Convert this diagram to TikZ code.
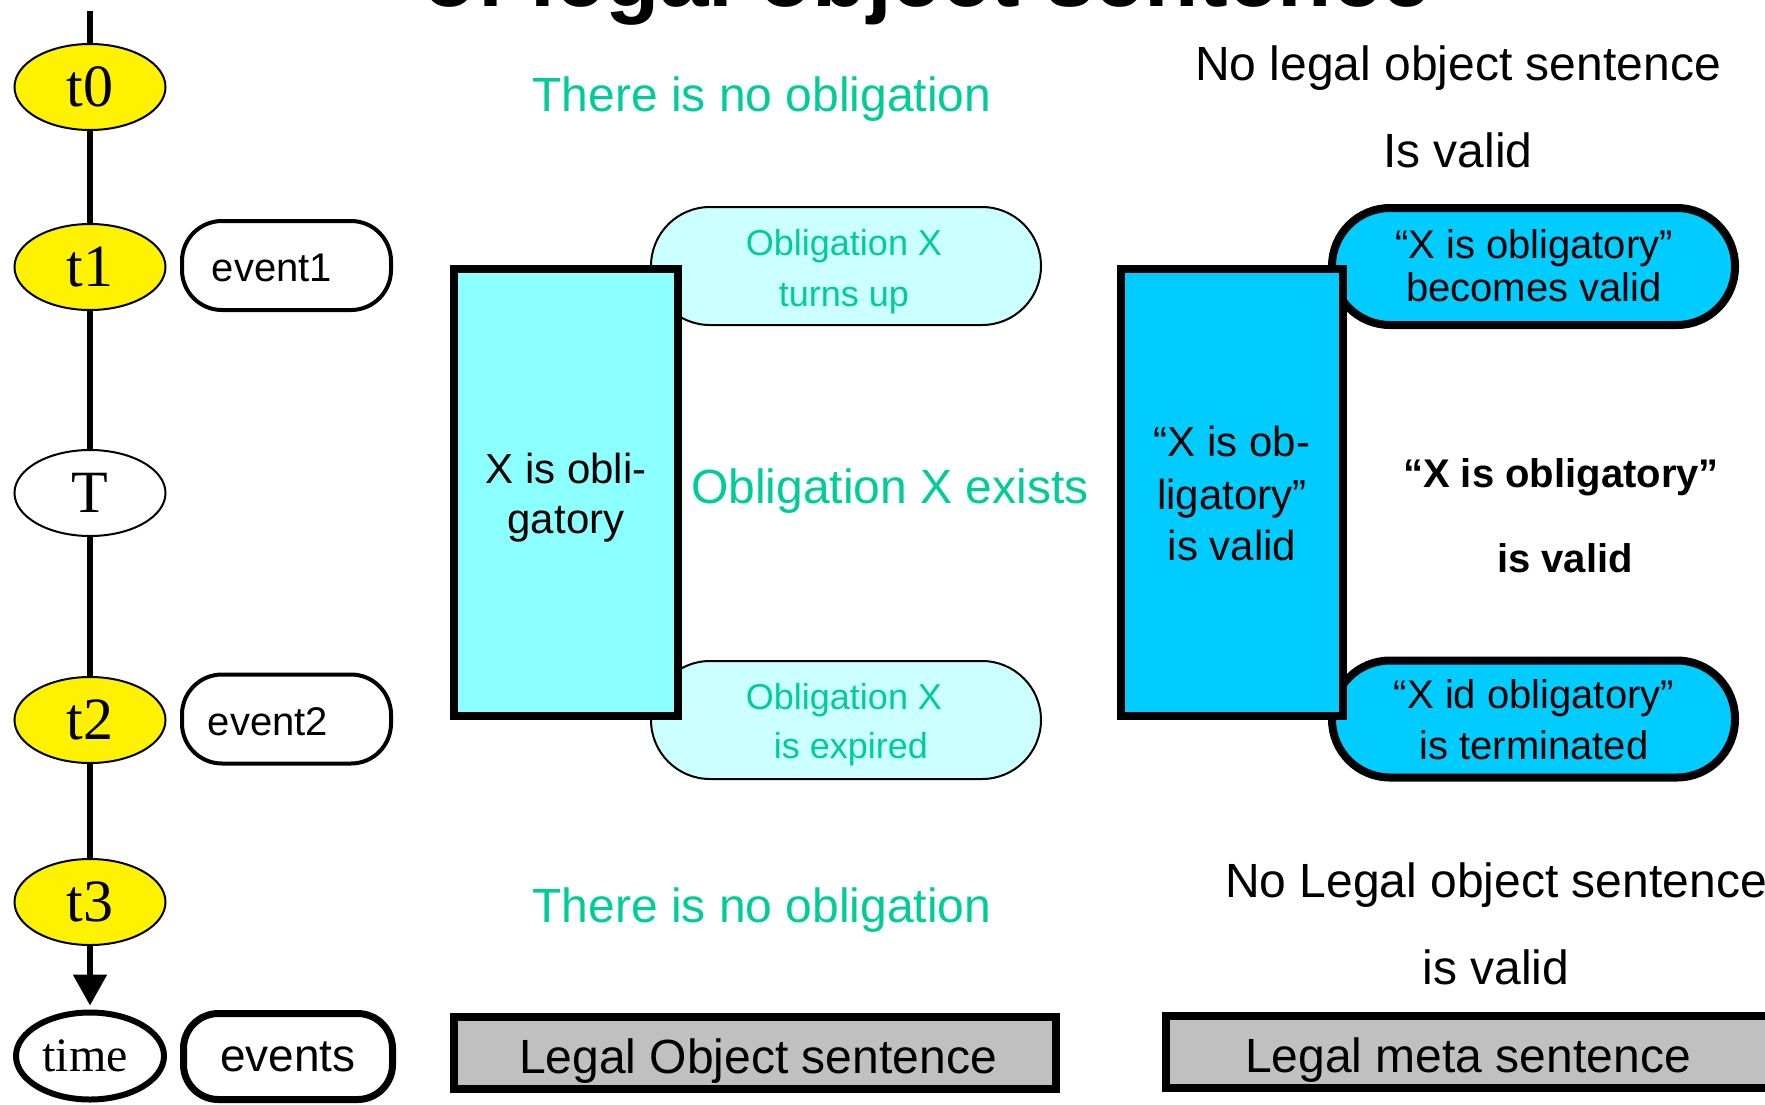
\documentclass[tikz,border=0pt]{standalone}
\usepackage{fontspec}
\setmainfont{Liberation Sans}
\newfontfamily\timesf{Liberation Serif}
\usetikzlibrary{shapes.geometric,arrows.meta}
\definecolor{ygreen}{RGB}{0,204,153}
\definecolor{pcyan}{RGB}{204,255,255}
\definecolor{rcyan}{RGB}{140,255,255}
\definecolor{dcyan}{RGB}{0,204,255}
\definecolor{gbox}{RGB}{192,192,192}
\newcommand\fsz[1]{\fontsize{#1}{#1}\selectfont}
\begin{document}
\begin{tikzpicture}[x=1pt,y=-1pt,
  tnode/.style={ellipse, draw, line width=2pt, fill=yellow, minimum width=151pt, minimum height=86pt, inner sep=0pt, font=\timesf\fsz{60}},
  evbox/.style={draw, line width=4pt, rounded corners=40pt, minimum width=209pt, minimum height=89pt, inner sep=0pt},
  lpill/.style={draw, line width=2pt, fill=pcyan, rounded corners=59pt, minimum width=390pt, minimum height=118pt},
  rpill/.style={draw, line width=8pt, fill=dcyan, rounded corners=58pt, minimum width=403pt, minimum height=117pt},
  lrect/.style={draw, line width=8pt, fill=rcyan, minimum width=224pt, minimum height=447pt},
  rrect/.style={draw, line width=8pt, fill=dcyan, minimum width=222pt, minimum height=447pt},
  graybox/.style={draw, line width=8pt, fill=gbox, minimum height=72pt, inner sep=0pt},
  txt/.style={anchor=base, inner sep=0pt},
  big/.style={txt, font=\fsz{48}},
  green/.style={text=ygreen},
]
\useasboundingbox (0,0) rectangle (1765,1104);

% title (cut by the top edge)
\node[anchor=base west, inner sep=0pt, font=\bfseries\fsz{89}] (title) at (422,6) {of legal object sentence};

% time line
\coordinate (top) at (90,11);
\node[tnode] (t0) at (90,87) {t0};
\node[tnode] (t1) at (90,267) {t1};
\node[tnode, fill=white] (T) at (90,493) {T};
\node[tnode] (t2) at (90,720) {t2};
\node[tnode] (t3) at (90,902) {t3};
\node[tnode, fill=white, line width=6pt, minimum width=148pt, minimum height=87pt, font=\timesf\fsz{48}] (time) at (90,1056) {\hspace*{-10pt}time};
\draw[line width=5.5pt] (top) -- (t0);
\draw[line width=5.5pt] (t0) -- (t1);
\draw[line width=5.5pt] (t1) -- (T);
\draw[line width=5.5pt] (T) -- (t2);
\draw[line width=5.5pt] (t2) -- (t3);
\draw[line width=5.5pt, -{Triangle[length=31pt,width=33pt]}, shorten >=4pt] (t3) -- (time);

% events
\node[evbox] (ev1) at (286.5,265.5) {};
\node[txt, font=\fsz{40}] (ev1t) at (272,281) {event1};
\node[evbox] (ev2) at (286.5,719) {};
\node[txt, font=\fsz{40}] (ev2t) at (268,735) {event2};
\node[evbox, line width=7pt, rounded corners=35pt, minimum height=86pt, font=\fsz{46}] (evs) at (288,1056.5) {events};

% object level (left)
\node[lpill] (p1) at (846,266) {};
\node[lpill] (p2) at (846,720) {};
\node[lrect] (r1) at (566,492.5) {};
\node[txt, green, font=\fsz{36}] (p1a) at (844,255) {Obligation X};
\node[txt, green, font=\fsz{36}] (p1b) at (844,306) {turns up};
\node[txt, green, font=\fsz{36}] (p2a) at (844,709) {Obligation X};
\node[txt, green, font=\fsz{36}] (p2b) at (851,758) {is expired};
\node[txt, font=\fsz{42}] (r1a) at (566,483) {X is obli-};
\node[txt, font=\fsz{42}] (r1b) at (566,533) {gatory};

\node[big, green] (no1) at (762,111) {There is no obligation};
\node[big, green] (ex) at (890,503) {Obligation X exists};
\node[big, green] (no2) at (762,922) {There is no obligation};

% meta level (right)
\node[rpill] (q1) at (1533.5,266.5) {};
\node[rpill] (q2) at (1533.5,719) {};
\node[rrect] (r2) at (1232,492.5) {};
\node[txt, font=\fsz{40}] (q1a) at (1534,258) {“X is obligatory”};
\node[txt, font=\fsz{40}] (q1b) at (1534,301) {becomes valid};
\node[txt, font=\fsz{40}] (q2a) at (1534,708) {“X id obligatory”};
\node[txt, font=\fsz{40}] (q2b) at (1534,759) {is terminated};
\node[txt, font=\fsz{42}] (r2a) at (1232,456) {“X is ob-};
\node[txt, font=\fsz{42}] (r2b) at (1232,509) {ligatory”};
\node[txt, font=\fsz{42}] (r2c) at (1232,560) {is valid};

\node[txt, font=\bfseries\fsz{40}] (mv1) at (1561,487) {“X is obligatory”};
\node[txt, font=\bfseries\fsz{40}] (mv2) at (1565,572) {is valid};

\node[big] (nl1) at (1458,80) {No legal object sentence};
\node[big] (iv1) at (1458,167) {Is valid};
\node[big] (nl2) at (1496,897) {No Legal object sentence};
\node[big] (iv2) at (1496,984) {is valid};

% legend boxes
\node[graybox, minimum width=602pt] (lob) at (755,1053) {};
\node[big] (lobt) at (758,1073) {Legal Object sentence};
\node[graybox, minimum width=634pt] (lmb) at (1483,1052) {};
\node[big] (lmbt) at (1468,1072) {Legal meta sentence};
\end{tikzpicture}
\end{document}
